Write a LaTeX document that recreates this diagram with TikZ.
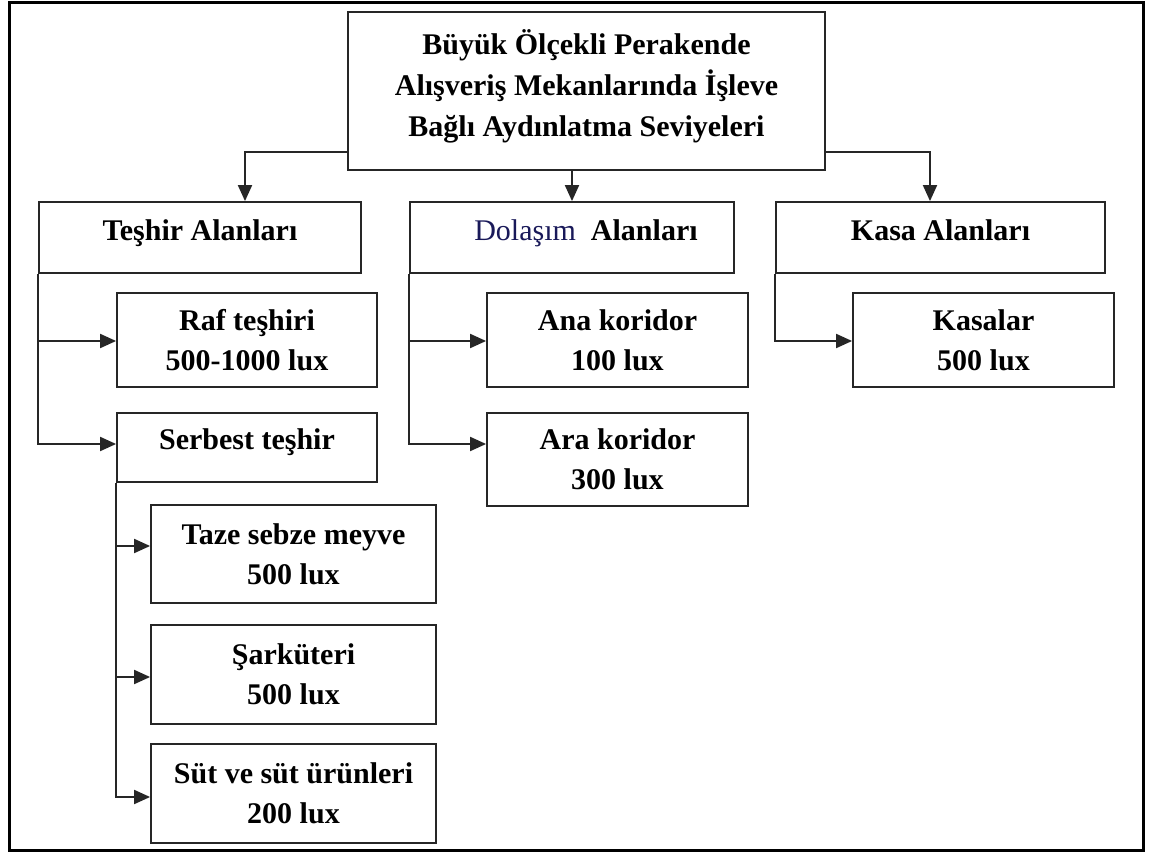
\documentclass[tikz,border=0pt]{standalone}
\usepackage{fontspec}
\setmainfont{Liberation Serif}
\usetikzlibrary{arrows.meta}
\definecolor{navytxt}{rgb}{0.1,0.1,0.35}
\tikzset{
  box/.style={draw=black!85, line width=1.8pt, fill=white, align=center,
    inner sep=0pt, font=\fontsize{30}{40}\selectfont\bfseries},
  single/.style={text height=20pt, text depth=14pt},
  arr/.style={draw=black!85, line width=1.9pt, -{Triangle[length=16pt,width=14pt]}},
}
\begin{document}
\begin{tikzpicture}[x=1pt,y=-1pt]
\useasboundingbox (0,0) rectangle (1152,853);
\draw[line width=3pt, black] (9,3) rectangle (1143,850);

\node[box, minimum width=477pt, minimum height=158pt, text depth=16pt,
      font=\fontsize{30}{41}\selectfont\bfseries] (top) at (586.5,91)
  {Büyük Ölçekli Perakende\\Alışveriş Mekanlarında İşleve\\Bağlı Aydınlatma Seviyeleri};

\node[box, single, minimum width=322pt, minimum height=71pt] (teshir) at (200,237.5) {Teşhir Alanları};
\node[box, minimum width=324pt, minimum height=71pt] (dolasim) at (572,237.5) {};
\node[font=\fontsize{30}{40}\selectfont\bfseries, anchor=base, inner sep=0pt] (dolasimtxt) at (586,241)
  {{\mdseries\color{navytxt}Dolaşım}\ \ Alanları};
\node[box, single, minimum width=329pt, minimum height=71pt] (kasa) at (940.5,237.5) {Kasa Alanları};

\node[box, minimum width=260pt, minimum height=94pt] (raf) at (247,340) {Raf teşhiri\\500-1000 lux};
\node[box, text height=20pt, text depth=17pt, minimum width=260pt, minimum height=69pt] (serbest) at (247,447.5) {Serbest teşhir};

\node[box, minimum width=261pt, minimum height=94pt] (ana) at (617.5,340) {Ana koridor\\100 lux};
\node[box, minimum width=261pt, minimum height=93pt] (ara) at (617.5,459.5) {Ara koridor\\300 lux};

\node[box, minimum width=261pt, minimum height=94pt] (kasalar) at (983.5,340) {Kasalar\\500 lux};

\node[box, minimum width=285pt, minimum height=98pt] (taze) at (293.5,554) {Taze sebze meyve\\500 lux};
\node[box, minimum width=285pt, minimum height=99pt] (sark) at (293.5,674.5) {Şarküteri\\500 lux};
\node[box, minimum width=285pt, minimum height=99pt] (sut) at (293.5,793.5) {Süt ve süt ürünleri\\200 lux};

% top-level connectors
\draw[arr] ([yshift=-61pt]top.west) -| ([xshift=45pt]teshir.north);
\draw[arr] (top.south -| dolasim.north) -- (dolasim.north);
\draw[arr] ([yshift=-61pt]top.east) -| ([xshift=-10.5pt]kasa.north);

% Teshir branch
\draw[arr] (teshir.south west) |- ([yshift=-1pt]raf.west);
\draw[arr] (teshir.south west) |- ([yshift=3.5pt]serbest.west);

% Serbest branch
\draw[arr] (serbest.south west) |- ([yshift=8pt]taze.west);
\draw[arr] (serbest.south west) |- ([yshift=-2.5pt]sark.west);
\draw[arr] (serbest.south west) |- ([yshift=-3.5pt]sut.west);

% Dolasim branch
\draw[arr] (dolasim.south west) |- ([yshift=-1pt]ana.west);
\draw[arr] (dolasim.south west) |- ([yshift=15.5pt]ara.west);

% Kasa branch
\draw[arr] (kasa.south west) |- ([yshift=-1pt]kasalar.west);
\end{tikzpicture}
\end{document}
